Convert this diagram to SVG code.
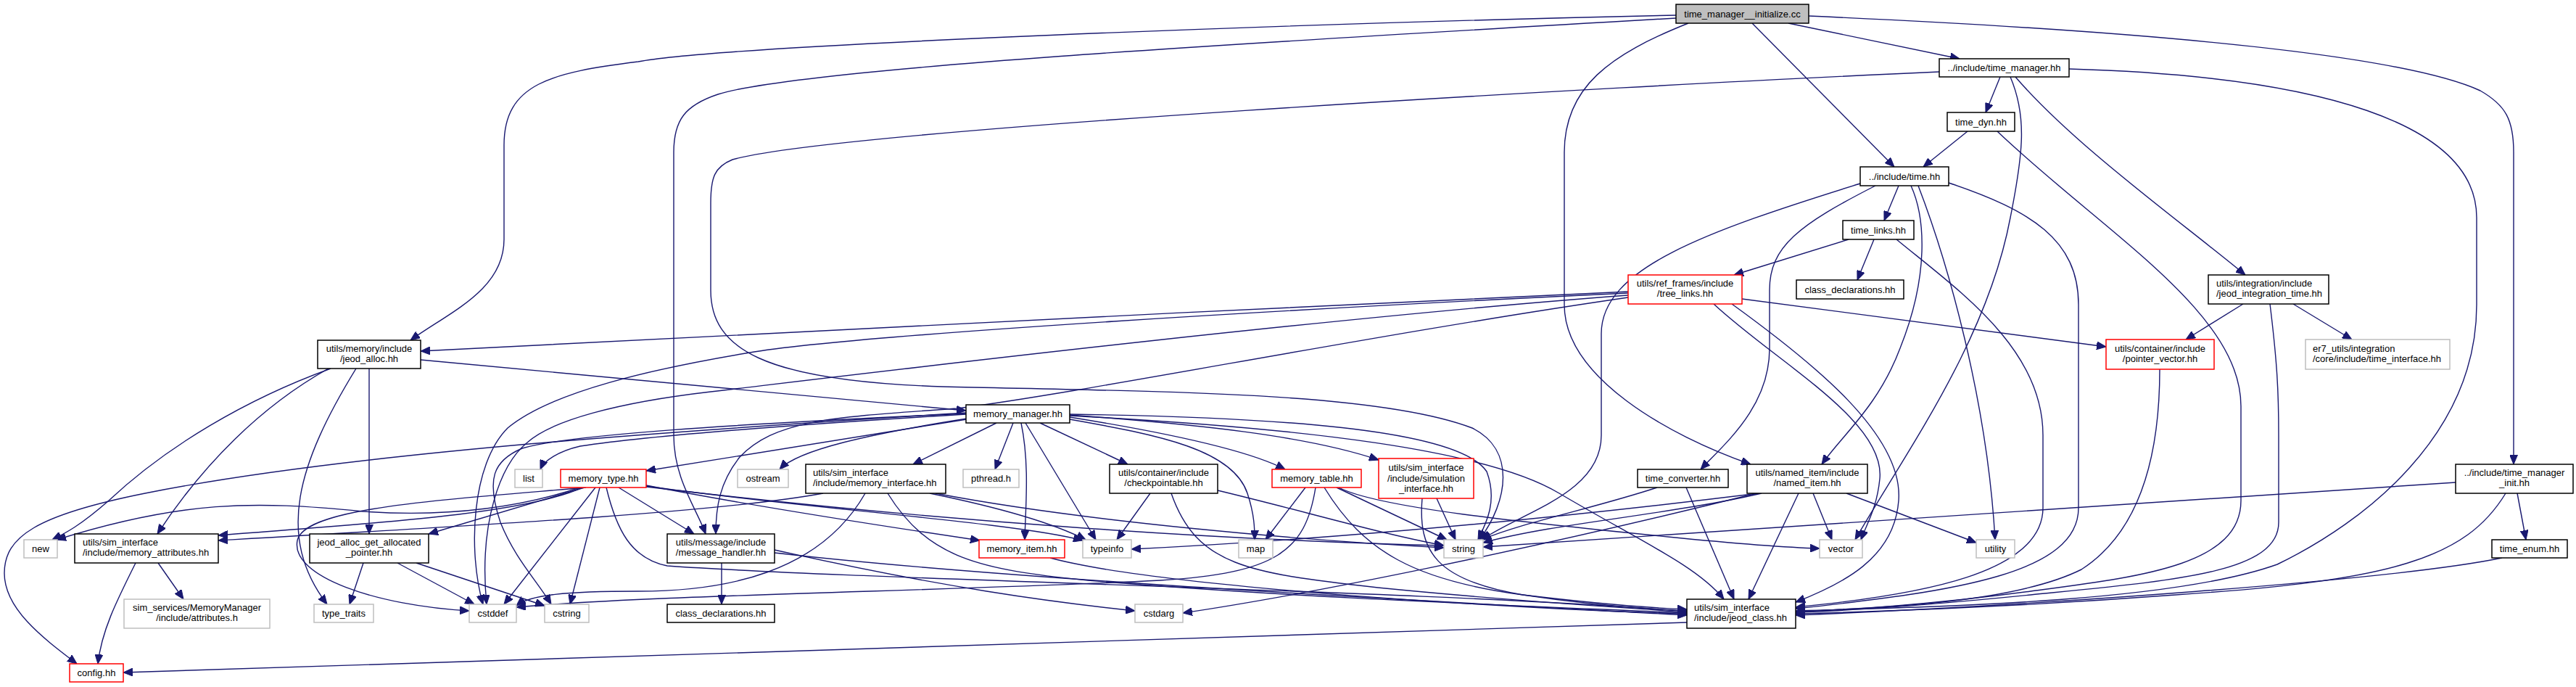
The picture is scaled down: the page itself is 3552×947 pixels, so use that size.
<svg xmlns="http://www.w3.org/2000/svg" width="3552" height="947" viewBox="0 0 3552 947">
<style>
.e{fill:none;stroke:#191970;stroke-width:1.4;marker-end:url(#ah)}
.node rect{fill:#ffffff;stroke:#000000;stroke-width:1.5}
.node.red rect{stroke:#ff0000}
.node.gray rect{stroke:#bfbfbf}
.node.root rect{fill:#bfbfbf}
text{font-family:"Liberation Sans",Arial,sans-serif;font-size:13px;fill:#000000;text-anchor:middle}
text.l{text-anchor:start}
</style>
<defs>
<marker id="ah" viewBox="0 0 13 11" refX="13" refY="5.5" markerUnits="userSpaceOnUse" markerWidth="13" markerHeight="11" orient="auto">
<path d="M0,0 L13,5.5 L0,11 z" fill="#191970" stroke="#191970" stroke-width="1"/>
</marker>
</defs>
<rect x="0" y="0" width="3552" height="947" fill="#ffffff"/>
<g id="edges">
<path class="e" d="M2466,32 L2702,81"/>
<path class="e" d="M2416,32 L2612,230"/>
<path class="e" d="M2328,32 C2220,75 2157,120 2157,210 L2157,420 C2157,520 2300,600 2414,640"/>
<path class="e" d="M2311,21 C1800,32 1000,62 880,85 C760,100 695,115 695,200 L695,330 C695,400 620,430 566,469"/>
<path class="e" d="M2311,25 C1700,60 1100,95 990,130 C945,145 929,165 929,210 L929,600 C929,660 960,700 973,736"/>
<path class="e" d="M2494,22 C2900,40 3300,70 3420,125 C3455,145 3466,165 3466,210 L3466,640"/>
<path class="e" d="M2758,106 L2738,155"/>
<path class="e" d="M2779,106 C2860,200 3000,300 3096,379"/>
<path class="e" d="M2772,106 C2795,160 2790,210 2772,300 C2740,470 2630,620 2558,744"/>
<path class="e" d="M2853,95 C3200,105 3415,170 3415,300 L3415,420 C3415,600 3260,720 3140,778 C3000,828 2700,836 2476,842"/>
<path class="e" d="M2674,99 C2200,120 1150,180 1010,220 C985,230 980,245 980,280 L980,400 C980,480 1050,525 1300,533 C1600,540 1900,540 2030,590 C2090,620 2080,690 2040,744"/>
<path class="e" d="M2713,181 L2652,230"/>
<path class="e" d="M2754,181 C2900,320 3090,430 3090,560 L3090,690 C3090,780 2950,795 2800,815 C2650,835 2550,840 2476,843"/>
<path class="e" d="M2618,256 L2598,304"/>
<path class="e" d="M2565,253 C2350,320 2208,370 2208,460 L2208,600 C2208,680 2100,705 2043,744"/>
<path class="e" d="M2586,256 C2480,310 2440,340 2440,400 L2440,480 C2440,560 2380,610 2345,647"/>
<path class="e" d="M2635,256 C2655,300 2660,380 2620,480 C2590,560 2540,600 2512,640"/>
<path class="e" d="M2645,256 C2685,360 2740,550 2751,744"/>
<path class="e" d="M2687,252 C2800,290 2866,330 2866,420 L2866,700 C2866,790 2700,815 2476,839"/>
<path class="e" d="M2549,330 L2391,379"/>
<path class="e" d="M2584,330 L2561,386"/>
<path class="e" d="M2615,330 C2700,400 2817,480 2817,600 L2817,700 C2817,790 2650,820 2476,837"/>
<path class="e" d="M2402,412 L2904,478"/>
<path class="e" d="M2363,419 C2450,500 2600,580 2592,660 C2588,700 2575,720 2566,744"/>
<path class="e" d="M2388,419 C2500,500 2625,600 2618,690 C2612,770 2540,805 2476,830"/>
<path class="e" d="M2245,402 C1700,425 1000,465 580,484"/>
<path class="e" d="M2245,404 C1800,425 1200,460 1040,485 C900,508 760,540 700,590 C650,640 645,760 666,833"/>
<path class="e" d="M2245,407 C1800,440 1150,520 980,540 C850,555 760,580 727,610 C690,640 660,720 671,833"/>
<path class="e" d="M2245,410 C1900,460 1500,540 1320,563 C1150,575 1070,578 1020,630 C992,665 987,700 987,736"/>
<path class="e" d="M580,496 L1332,566"/>
<path class="e" d="M456,508 C340,550 230,615 150,690 C110,725 90,735 72,744"/>
<path class="e" d="M453,508 C360,560 280,640 217,736"/>
<path class="e" d="M491,508 C410,640 380,740 451,833"/>
<path class="e" d="M509,508 L509,736"/>
<path class="e" d="M1333,578 L891,649"/>
<path class="e" d="M1333,577 C1200,598 1100,620 1075,647"/>
<path class="e" d="M1374,583 L1259,640"/>
<path class="e" d="M1397,583 L1372,647"/>
<path class="e" d="M1408,583 C1420,640 1414,700 1413,744"/>
<path class="e" d="M1414,583 L1511,744"/>
<path class="e" d="M1434,583 L1555,640"/>
<path class="e" d="M1475,578 C1600,600 1700,620 1720,680 C1730,710 1730,730 1730,744"/>
<path class="e" d="M1475,575 C1600,595 1720,620 1772,647"/>
<path class="e" d="M1475,572 C1650,585 1800,600 1901,634"/>
<path class="e" d="M1475,571 C1750,575 2010,590 2050,650 C2065,690 2050,720 2038,744"/>
<path class="e" d="M1475,573 C1800,590 2050,620 2150,680 C2260,745 2340,780 2377,826"/>
<path class="e" d="M1332,571 C1100,585 900,600 800,615 C770,622 750,635 745,647"/>
<path class="e" d="M1332,569 C1000,590 500,620 200,680 C50,710 6,740 6,790 C6,840 60,880 106,915"/>
<path class="e" d="M1332,570 C1000,585 780,600 720,618 C680,635 670,660 690,720 C710,770 740,800 760,833"/>
<path class="e" d="M800,672 C700,705 600,712 500,705 C350,690 250,690 78,744"/>
<path class="e" d="M803,672 C720,710 500,722 301,738"/>
<path class="e" d="M806,672 L591,736"/>
<path class="e" d="M808,672 C600,690 420,700 410,745 C400,795 520,835 647,842"/>
<path class="e" d="M821,672 L695,833"/>
<path class="e" d="M827,672 L786,833"/>
<path class="e" d="M836,672 C850,730 870,770 920,780 C1200,800 2000,815 2326,843"/>
<path class="e" d="M853,672 L957,736"/>
<path class="e" d="M891,669 C1050,700 1250,730 1351,745"/>
<path class="e" d="M891,670 C1100,700 1400,720 1493,745"/>
<path class="e" d="M891,671 C1300,720 1700,745 1991,752"/>
<path class="e" d="M1135,680 C1000,705 700,722 301,745"/>
<path class="e" d="M1193,680 C1130,790 1000,815 880,815 C780,815 730,820 712,835"/>
<path class="e" d="M1224,680 C1280,770 1350,785 1500,800 C1800,825 2100,835 2326,845"/>
<path class="e" d="M1282,680 C1380,700 1450,720 1497,744"/>
<path class="e" d="M1290,680 C1500,720 1800,745 1991,755"/>
<path class="e" d="M1586,680 L1540,744"/>
<path class="e" d="M1615,680 C1650,780 1720,790 1900,810 C2100,830 2250,838 2326,844"/>
<path class="e" d="M1679,676 C1800,705 1900,735 1991,752"/>
<path class="e" d="M1800,672 L1745,744"/>
<path class="e" d="M1814,672 C1800,760 1760,790 1600,800 C1300,815 900,820 712,837"/>
<path class="e" d="M1843,672 L1995,744"/>
<path class="e" d="M1826,672 C1880,760 1950,800 2100,820 C2200,832 2280,838 2326,840"/>
<path class="e" d="M1846,672 C1900,700 2100,720 2300,740 C2400,750 2470,755 2509,756"/>
<path class="e" d="M1981,687 L2007,744"/>
<path class="e" d="M1961,687 C1955,760 1980,800 2100,820 C2200,835 2280,840 2326,842"/>
<path class="e" d="M2285,672 C2200,700 2100,720 2043,744"/>
<path class="e" d="M2325,672 L2391,826"/>
<path class="e" d="M2429,680 C2300,710 2150,720 2045,748"/>
<path class="e" d="M2425,680 C2100,720 1800,745 1560,757"/>
<path class="e" d="M2422,680 C2100,760 1800,820 1631,845"/>
<path class="e" d="M2480,680 L2411,826"/>
<path class="e" d="M2500,680 L2526,744"/>
<path class="e" d="M2546,680 L2725,748"/>
<path class="e" d="M995,776 L995,833"/>
<path class="e" d="M1068,758 C1300,810 1450,830 1565,842"/>
<path class="e" d="M1068,762 C1400,800 2000,830 2326,848"/>
<path class="e" d="M1448,769 C1600,810 2100,840 2326,846"/>
<path class="e" d="M187,776 C160,830 140,870 135,915"/>
<path class="e" d="M218,776 L253,826"/>
<path class="e" d="M501,776 L482,833"/>
<path class="e" d="M548,776 L654,833"/>
<path class="e" d="M574,776 L751,835"/>
<path class="e" d="M2326,858 C1500,880 800,905 170,927"/>
<path class="e" d="M3471,680 L3483,744"/>
<path class="e" d="M3455,680 C3400,770 3300,800 3000,820 C2800,835 2600,843 2476,846"/>
<path class="e" d="M3386,665 L2045,754"/>
<path class="e" d="M3450,769 C3300,800 2800,835 2476,848"/>
<path class="e" d="M3093,419 L3014,468"/>
<path class="e" d="M3162,419 L3243,468"/>
<path class="e" d="M3130,419 C3140,500 3142,540 3142,600 L3142,720 C3142,790 3000,800 2800,820 C2650,835 2550,842 2476,844"/>
<path class="e" d="M2978,509 C2978,650 2940,740 2870,785 C2780,830 2600,838 2476,843"/>
</g>
<g id="n0" class="node root"><rect x="2311" y="6" width="183" height="26"/><text x="2402.5" y="23.5">time_manager__initialize.cc</text></g>
<g id="n1" class="node"><rect x="2674" y="81" width="179" height="25"/><text x="2763.5" y="98">../include/time_manager.hh</text></g>
<g id="n2" class="node"><rect x="2685" y="155" width="93" height="26"/><text x="2731.5" y="172.5">time_dyn.hh</text></g>
<g id="n3" class="node"><rect x="2565" y="230" width="122" height="26"/><text x="2626" y="247.5">../include/time.hh</text></g>
<g id="n4" class="node"><rect x="2541" y="304" width="98" height="26"/><text x="2590" y="321.5">time_links.hh</text></g>
<g id="n5" class="node red"><rect x="2245" y="379" width="157" height="40"/><text x="2323.5" y="395">utils/ref_frames/include</text><text x="2323.5" y="409">/tree_links.hh</text></g>
<g id="n6" class="node"><rect x="2477" y="386" width="148" height="26"/><text x="2551" y="403.5">class_declarations.hh</text></g>
<g id="n7" class="node"><rect x="3045" y="379" width="166" height="40"/><text class="l" x="3056" y="395">utils/integration/include</text><text class="l" x="3056" y="409">/jeod_integration_time.hh</text></g>
<g id="n8" class="node red"><rect x="2904" y="468" width="149" height="41"/><text x="2978.5" y="484.5">utils/container/include</text><text x="2978.5" y="498.5">/pointer_vector.hh</text></g>
<g id="n9" class="node gray"><rect x="3179" y="468" width="199" height="41"/><text class="l" x="3189" y="484.5">er7_utils/integration</text><text class="l" x="3189" y="498.5">/core/include/time_interface.hh</text></g>
<g id="n10" class="node"><rect x="438" y="469" width="142" height="39"/><text x="509" y="485">utils/memory/include</text><text x="509" y="499">/jeod_alloc.hh</text></g>
<g id="n11" class="node"><rect x="1332" y="558" width="143" height="25"/><text x="1403.5" y="575">memory_manager.hh</text></g>
<g id="n12" class="node gray"><rect x="710" y="647" width="38" height="25"/><text x="729" y="664">list</text></g>
<g id="n13" class="node red"><rect x="773" y="647" width="118" height="25"/><text x="832" y="664">memory_type.hh</text></g>
<g id="n14" class="node gray"><rect x="1017" y="647" width="70" height="25"/><text x="1052" y="664">ostream</text></g>
<g id="n15" class="node"><rect x="1111" y="640" width="193" height="40"/><text class="l" x="1121" y="656">utils/sim_interface</text><text class="l" x="1121" y="670">/include/memory_interface.hh</text></g>
<g id="n16" class="node gray"><rect x="1328" y="647" width="77" height="25"/><text x="1366.5" y="664">pthread.h</text></g>
<g id="n17" class="node"><rect x="1530" y="640" width="149" height="40"/><text x="1604.5" y="656">utils/container/include</text><text x="1604.5" y="670">/checkpointable.hh</text></g>
<g id="n18" class="node red"><rect x="1754" y="647" width="123" height="25"/><text x="1815.5" y="664">memory_table.hh</text></g>
<g id="n19" class="node red"><rect x="1901" y="632" width="131" height="55"/><text x="1966.5" y="649">utils/sim_interface</text><text x="1966.5" y="663.5">/include/simulation</text><text x="1966.5" y="678">_interface.hh</text></g>
<g id="n20" class="node"><rect x="2258" y="647" width="125" height="25"/><text x="2320.5" y="664">time_converter.hh</text></g>
<g id="n21" class="node"><rect x="2409" y="640" width="166" height="40"/><text x="2492" y="656">utils/named_item/include</text><text x="2492" y="670">/named_item.hh</text></g>
<g id="n22" class="node"><rect x="3386" y="640" width="162" height="40"/><text x="3467" y="656">../include/time_manager</text><text x="3467" y="670">_init.hh</text></g>
<g id="n23" class="node gray"><rect x="33" y="744" width="46" height="25"/><text x="56" y="761">new</text></g>
<g id="n24" class="node"><rect x="103" y="736" width="198" height="40"/><text class="l" x="114" y="752">utils/sim_interface</text><text class="l" x="114" y="766">/include/memory_attributes.hh</text></g>
<g id="n25" class="node"><rect x="427" y="736" width="164" height="40"/><text x="509" y="752">jeod_alloc_get_allocated</text><text x="509" y="766">_pointer.hh</text></g>
<g id="n26" class="node"><rect x="920" y="736" width="148" height="40"/><text x="994" y="752">utils/message/include</text><text x="994" y="766">/message_handler.hh</text></g>
<g id="n27" class="node red"><rect x="1350" y="744" width="118" height="25"/><text x="1409" y="761">memory_item.hh</text></g>
<g id="n28" class="node gray"><rect x="1493" y="744" width="67" height="25"/><text x="1526.5" y="761">typeinfo</text></g>
<g id="n29" class="node gray"><rect x="1708" y="744" width="47" height="25"/><text x="1731.5" y="761">map</text></g>
<g id="n30" class="node gray"><rect x="1991" y="744" width="54" height="25"/><text x="2018" y="761">string</text></g>
<g id="n31" class="node gray"><rect x="2509" y="744" width="59" height="25"/><text x="2538.5" y="761">vector</text></g>
<g id="n32" class="node gray"><rect x="2725" y="744" width="53" height="25"/><text x="2751.5" y="761">utility</text></g>
<g id="n33" class="node"><rect x="3436" y="744" width="104" height="25"/><text x="3488" y="761">time_enum.hh</text></g>
<g id="n34" class="node gray"><rect x="171" y="826" width="201" height="40"/><text x="271.5" y="842">sim_services/MemoryManager</text><text x="271.5" y="856">/include/attributes.h</text></g>
<g id="n35" class="node gray"><rect x="433" y="833" width="82" height="25"/><text x="474" y="850">type_traits</text></g>
<g id="n36" class="node gray"><rect x="647" y="833" width="65" height="25"/><text x="679.5" y="850">cstddef</text></g>
<g id="n37" class="node gray"><rect x="751" y="833" width="61" height="25"/><text x="781.5" y="850">cstring</text></g>
<g id="n38" class="node"><rect x="920" y="833" width="148" height="25"/><text x="994" y="850">class_declarations.hh</text></g>
<g id="n39" class="node gray"><rect x="1565" y="833" width="66" height="25"/><text x="1598" y="850">cstdarg</text></g>
<g id="n40" class="node"><rect x="2326" y="826" width="150" height="40"/><text class="l" x="2336" y="842">utils/sim_interface</text><text class="l" x="2336" y="856">/include/jeod_class.hh</text></g>
<g id="n41" class="node red"><rect x="96" y="915" width="74" height="25"/><text x="133" y="932">config.hh</text></g>
</svg>
